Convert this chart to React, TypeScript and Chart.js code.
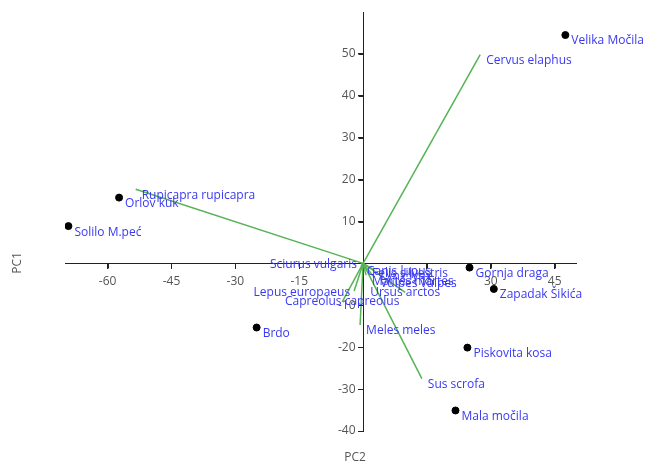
import React, { useEffect, useRef } from "react";
import { Chart, registerables } from "chart.js";

Chart.register(...registerables);

// Site scores (PC2 horizontal, PC1 vertical)
const siteNames = ["Velika Močila", "Orlov kuk", "Solilo M.peć", "Gornja draga", "Zapadak Šikića", "Piskovita kosa", "Mala močila", "Brdo"];
const siteX = [47.5, -57.3, -69.2, 25.0, 30.7, 24.5, 21.7, -25.0];
const siteY = [54.5, 15.7, 8.9, -1.0, -6.1, -20.1, -35.1, -15.3];

// Species loadings (biplot vectors)
const speciesNames = ["Cervus elaphus", "Rupicapra rupicapra", "Sus scrofa", "Meles meles", "Sciurus vulgaris", "Lepus europaeus", "Capreolus capreolus", "Ursus arctos", "Canis lupus", "Felis silvestris", "Lynx lynx", "Martes martes", "Vulpes vulpes"];
const speciesX = [27.5, -53.4, 13.8, -0.7, -0.5, -2.1, -4.9, 9.9, -0.5, 0.7, 2.6, 0.7, 2.6];
const speciesY = [49.8, 17.7, -27.5, -14.7, 0.1, -6.6, -9.2, -6.9, -0.6, -1.1, -1.6, -2.8, -3.3];
const speciesLabelAlign = ["left", "left", "left", "left", "right", "right", "center", "center", "left", "left", "left", "left", "left"];

const xTicks = [-60, -45, -30, -15, 15, 30, 45];
const yTicks = [-40, -30, -20, -10, 10, 20, 30, 40, 50];

const BLUE = "#3838f4";
const GREEN = "#56b356";
const GRAY = "#555";
const AXIS = "#222";
const FONT = "'Open Sans', 'Noto Sans', sans-serif";

export default function App() {
  const ref = useRef<HTMLCanvasElement | null>(null);
  useEffect(() => {
    document.body.style.margin = "0";
    const canvas = ref.current!;
    const vectorSets = speciesNames.map((n, i) => ({
      type: "line" as const,
      label: n,
      data: [{ x: 0, y: 0 }, { x: speciesX[i], y: speciesY[i] }],
      borderColor: GREEN,
      borderWidth: 1.5,
      pointRadius: 0,
      showLine: true,
      fill: false,
    }));
    const labelPlugin = {
      id: "labels",
      afterDraw(chart: any) {
        const { ctx, scales } = chart;
        const xs = scales.x, ys = scales.y;
        ctx.save();
        const axisX = Math.round(xs.getPixelForValue(0)) + 0.5;
        const axisY = Math.round(ys.getPixelForValue(0)) + 0.5;
        // tick marks
        ctx.strokeStyle = AXIS;
        ctx.lineWidth = 1;
        ctx.beginPath();
        yTicks.forEach((v) => {
          const py = Math.round(ys.getPixelForValue(v)) + 0.5;
          ctx.moveTo(axisX - 5, py);
          ctx.lineTo(axisX, py);
        });
        xTicks.forEach((v) => {
          const px = Math.round(xs.getPixelForValue(v)) + 0.5;
          ctx.moveTo(px, axisY);
          ctx.lineTo(px, axisY + 5);
        });
        ctx.stroke();
        // y tick labels, left of the vertical axis
        ctx.font = `12px ${FONT}`;
        ctx.fillStyle = GRAY;
        ctx.textAlign = "right";
        ctx.textBaseline = "middle";
        yTicks.forEach((v) => {
          ctx.fillText(String(v), axisX - 8, ys.getPixelForValue(v));
        });
        ctx.fillStyle = BLUE;
        siteNames.forEach((n, i) => {
          const px = xs.getPixelForValue(siteX[i]);
          const py = ys.getPixelForValue(siteY[i]);
          ctx.textAlign = "left";
          ctx.fillText(n, px + 6, py + 6);
        });
        speciesNames.forEach((n, i) => {
          const px = xs.getPixelForValue(speciesX[i]);
          const py = ys.getPixelForValue(speciesY[i]);
          const a = speciesLabelAlign[i];
          if (a === "left") {
            ctx.textAlign = "left";
            ctx.fillText(n, px + 6, py + 6);
          } else if (a === "right") {
            ctx.textAlign = "right";
            ctx.fillText(n, px - 4, py + 2);
          } else {
            ctx.textAlign = "center";
            ctx.fillText(n, px, py);
          }
        });
        ctx.fillStyle = GRAY;
        ctx.textAlign = "center";
        ctx.fillText("PC2", 355, 458);
        ctx.translate(18, 263);
        ctx.rotate(-Math.PI / 2);
        ctx.fillText("PC1", 0, 0);
        ctx.restore();
      },
    };
    const chart = new Chart(canvas, {
      type: "scatter",
      data: {
        datasets: [
          {
            type: "scatter",
            label: "sites",
            data: siteX.map((x, i) => ({ x, y: siteY[i] })),
            backgroundColor: "#000",
            borderColor: "#000",
            pointRadius: 3.5,
          },
          ...vectorSets,
        ] as any,
      },
      options: {
        animation: false,
        responsive: false,
        layout: { padding: { left: 65, right: 75, top: 12, bottom: 37 } },
        plugins: { legend: { display: false }, tooltip: { enabled: false } },
        scales: {
          x: {
            type: "linear",
            min: -70,
            max: 50,
            position: { y: 0 } as any,
            afterBuildTicks: (s: any) => { s.ticks = xTicks.map((v) => ({ value: v })); },
            grid: { drawOnChartArea: false, drawTicks: true, tickLength: 5, color: AXIS },
            border: { display: true, color: AXIS, width: 1 },
            ticks: { color: GRAY, font: { size: 12, family: FONT }, padding: 6, maxRotation: 0, autoSkip: false },
          },
          y: {
            type: "linear",
            min: -40,
            max: 60,
            position: { x: 0 } as any,
            afterBuildTicks: (s: any) => { s.ticks = yTicks.map((v) => ({ value: v })); },
            grid: { drawOnChartArea: false, drawTicks: true, tickLength: 5, color: AXIS },
            border: { display: true, color: AXIS, width: 1 },
            ticks: { display: false },
          },
        },
      },
      plugins: [labelPlugin],
    });
    return () => chart.destroy();
  }, []);
  return <canvas ref={ref} width={651} height={468} style={{ display: "block" }} />;
}
